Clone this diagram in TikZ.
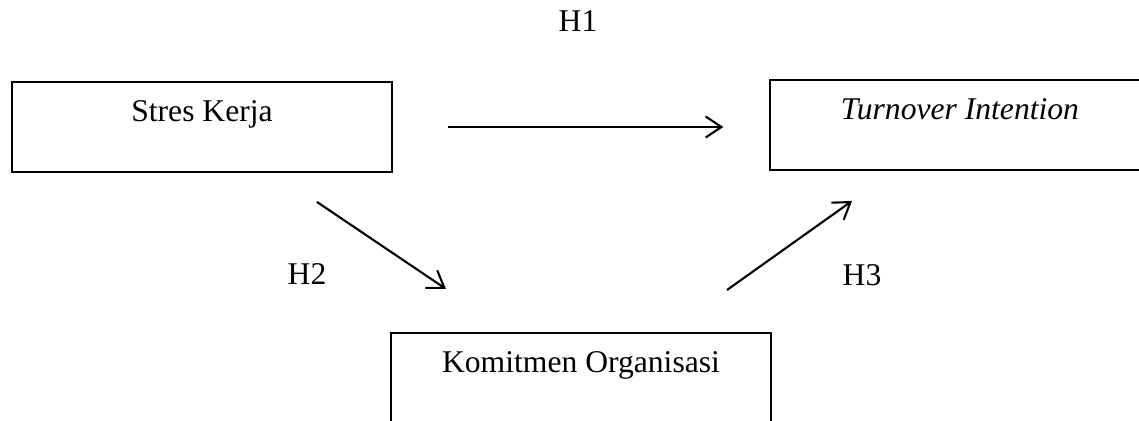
\documentclass[tikz,border=0pt]{standalone}
\usepackage{fontspec}
\setmainfont{Liberation Serif}
\usepackage{tikz}
\usetikzlibrary{arrows.meta, positioning}

\tikzset{
    varbox/.style={draw, line width=0.8pt, rectangle, inner sep=0pt,
        minimum width=7.6cm, minimum height=1.8cm,
        text height=0.8cm, text depth=1.0cm},
    hyplink/.style={line width=1.2pt, -{Straight Barb[length=9pt, width=12pt, line width=1.2pt]}},
    hyplabel/.style={inner sep=0pt}
}

\begin{document}
\begin{tikzpicture}[x=0.02cm, y=0.02cm, font=\fontsize{18}{22}\selectfont]

\useasboundingbox (0,0) rectangle (1139,421);

% Variables
\node[varbox] (stres) at (202,294) {Stres Kerja};
\node[varbox] (turnover) at (960,296) {\textit{Turnover Intention}};
\node[varbox] (komitmen) at (581,43) {Komitmen Organisasi};

% Arrow ends
\coordinate (h2a) at (317,219);
\coordinate (h2b) at (446,132);
\coordinate (h3a) at (727,131);
\coordinate (h3b) at (852,220);

% Hypotheses
\draw[hyplink, shorten <=1.1cm, shorten >=0.92cm] (stres.east) -- (stres.east -| turnover.west);
\draw[hyplink] (h2a) -- (h2b);
\draw[hyplink] (h3a) -- (h3b);

\node[hyplabel] (h1) at (578,400) {H1};
\node[hyplabel] (h2) at (307,147) {H2};
\node[hyplabel] (h3) at (862,146) {H3};

\end{tikzpicture}
\end{document}
